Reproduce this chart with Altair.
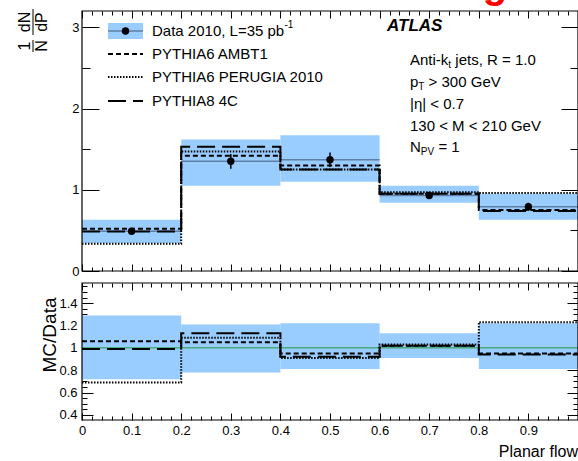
import altair as alt
import pandas as pd

# ---------------- data ----------------
edges = [0.0, 0.2, 0.4, 0.6, 0.8, 1.0]
bin_lo = [0.0, 0.2, 0.4, 0.6, 0.8]
bin_hi = [0.2, 0.4, 0.6, 0.8, 1.0]
bin_mid = [0.1, 0.3, 0.5, 0.7, 0.9]

data_val = [0.49, 1.35, 1.37, 0.93, 0.79]
data_err = [0.03, 0.09, 0.09, 0.03, 0.05]
band_lo = [0.345, 1.05, 1.10, 0.84, 0.63]
band_hi = [0.63, 1.62, 1.67, 1.05, 0.95]

ambt1 = [0.52, 1.42, 1.30, 0.95, 0.75]
perugia = [0.335, 1.47, 1.25, 0.97, 0.96]
p8_4c = [0.485, 1.53, 1.25, 0.95, 0.74]

ratio_lo = [0.72, 0.78, 0.81, 0.91, 0.81]
ratio_hi = [1.29, 1.21, 1.22, 1.13, 1.22]
ratio_ambt1 = [1.06, 1.05, 0.95, 1.02, 0.95]
ratio_perugia = [0.69, 1.09, 0.91, 1.03, 1.23]
ratio_4c = [0.99, 1.13, 0.92, 1.02, 0.94]

series_names = ["PYTHIA6 AMBT1", "PYTHIA6 PERUGIA 2010", "PYTHIA8 4C"]

x_major = [0.0, 0.1, 0.2, 0.3, 0.4, 0.5, 0.6, 0.7, 0.8, 0.9, 1.0]
x_minor = [round(0.02 * i, 2) for i in range(51)]
top_y_major = [0, 1, 2, 3]
top_y_minor = [0.5, 1.5, 2.5]
bot_y_major = [0.4, 0.6, 0.8, 1.0, 1.2, 1.4]
bot_y_minor = [round(0.4 + 0.05 * i, 2) for i in range(24)]

X_DOMAIN = [0.0, 1.0]
TOP_DOMAIN = [0.0, 3.2]
BOT_DOMAIN = [0.355, 1.58]

# ---------------- styling ----------------
FONT = "Liberation Sans"
BAND = "#99ccff"
DATA_LINE = "#5f80a6"
GREEN = "#1e9a3a"
DASHES = [[5, 3], [1.5, 1.5], [18, 7]]
W, H = 496, 409

XS = alt.Scale(domain=X_DOMAIN, nice=False, zero=False)
YT = alt.Scale(domain=TOP_DOMAIN, range=[260, 0], nice=False, zero=False)
YB = alt.Scale(domain=BOT_DOMAIN, range=[409, 272], nice=False, zero=False)


def axis(orient, values, size, offset, labels=False, pad=3, expr="format(datum.value, '~g')"):
    kw = dict(orient=orient, values=values, tickSize=size, offset=offset, labels=labels,
              domain=False, grid=False, ticks=True, title=None, tickColor="black", tickWidth=1)
    if labels:
        kw.update(labelFont=FONT, labelFontSize=13, labelColor="black", labelPadding=pad,
                  labelFlush=False, labelOverlap=False, labelExpr=expr)
    return alt.Axis(**kw)


bins = pd.DataFrame({
    "lo": bin_lo, "hi": bin_hi, "mid": bin_mid,
    "val": data_val,
    "err_lo": [v - e for v, e in zip(data_val, data_err)],
    "err_hi": [v + e for v, e in zip(data_val, data_err)],
    "band_lo": band_lo, "band_hi": band_hi,
    "r_lo": ratio_lo, "r_hi": ratio_hi,
})


def step_frame(series_vals):
    rows = []
    for name, vals in zip(series_names, series_vals):
        ys = vals + [vals[-1]]
        for x, y in zip(edges, ys):
            rows.append({"x": x, "y": y, "series": name})
    return pd.DataFrame(rows)


mc_top = step_frame([ambt1, perugia, p8_4c])
mc_bot = step_frame([ratio_ambt1, ratio_perugia, ratio_4c])

top_frame = pd.DataFrame({"x0": [X_DOMAIN[0]], "x1": [X_DOMAIN[1]], "y0": [TOP_DOMAIN[0]], "y1": [TOP_DOMAIN[1]]})
bot_frame = pd.DataFrame({"x0": [X_DOMAIN[0]], "x1": [X_DOMAIN[1]], "y0": [BOT_DOMAIN[0]], "y1": [BOT_DOMAIN[1]]})
unity = pd.DataFrame({"x0": [X_DOMAIN[0]], "x1": [X_DOMAIN[1]], "y": [1.0]})

dash_enc = alt.StrokeDash("series:N", scale=alt.Scale(domain=series_names, range=DASHES), legend=None)

# ---------------- top panel ----------------
band_top = alt.Chart(bins).mark_rect(color=BAND).encode(
    x=alt.X("lo:Q", scale=XS, axis=axis("bottom", x_major, 7, -156)),
    x2="hi:Q",
    y=alt.Y("band_lo:Q", scale=YT, axis=axis("left", top_y_major, 17, -17, labels=True, pad=3)),
    y2="band_hi:Q",
)
data_line = alt.Chart(bins).mark_rule(color=DATA_LINE, strokeWidth=1.5).encode(
    x=alt.X("lo:Q", scale=XS, axis=axis("bottom", x_minor, 4, -153)),
    x2="hi:Q",
    y=alt.Y("val:Q", scale=YT, axis=axis("left", top_y_minor, 8, -8)),
)
mc_top_layer = alt.Chart(mc_top).mark_line(interpolate="step-after", color="black", strokeWidth=2).encode(
    x=alt.X("x:Q", scale=XS, axis=axis("top", x_major, 7, -7)),
    y=alt.Y("y:Q", scale=YT, axis=axis("right", top_y_major, 17, -17)),
    strokeDash=dash_enc,
)
err_top = alt.Chart(bins).mark_rule(color="black", strokeWidth=1.5).encode(
    x=alt.X("mid:Q", scale=XS, axis=axis("top", x_minor, 4, -4)),
    y=alt.Y("err_lo:Q", scale=YT, axis=axis("right", top_y_minor, 8, -8)),
    y2="err_hi:Q",
)
pts_top = alt.Chart(bins).mark_circle(size=55, color="black", opacity=1).encode(
    x=alt.X("mid:Q", scale=XS, axis=None),
    y=alt.Y("val:Q", scale=YT, axis=None),
)
frame_top = alt.Chart(top_frame).mark_rect(fill="transparent", stroke="black", strokeWidth=1.2).encode(
    x=alt.X("x0:Q", scale=XS, axis=None), x2="x1:Q",
    y=alt.Y("y0:Q", scale=YT, axis=None), y2="y1:Q",
)

# ---------------- ratio panel ----------------
band_bot = alt.Chart(bins).mark_rect(color=BAND).encode(
    x=alt.X("lo:Q", scale=XS, axis=axis("bottom", x_major, 7, -7, labels=True, pad=4,
                                         expr="datum.value > 0.95 ? '' : format(datum.value, '~g')")),
    x2="hi:Q",
    y=alt.Y("r_lo:Q", scale=YB, axis=axis("left", bot_y_major, 11, -11, labels=True, pad=5)),
    y2="r_hi:Q",
)
unity_line = alt.Chart(unity).mark_rule(color=GREEN, strokeWidth=1).encode(
    x=alt.X("x0:Q", scale=XS, axis=axis("bottom", x_minor, 4, -4)),
    x2="x1:Q",
    y=alt.Y("y:Q", scale=YB, axis=axis("left", bot_y_minor, 5, -5)),
)
mc_bot_layer = alt.Chart(mc_bot).mark_line(interpolate="step-after", color="black", strokeWidth=2).encode(
    x=alt.X("x:Q", scale=XS, axis=axis("top", x_major, 7, -279)),
    y=alt.Y("y:Q", scale=YB, axis=axis("right", bot_y_major, 11, -11)),
    strokeDash=dash_enc,
)
frame_bot = alt.Chart(bot_frame).mark_rect(fill="transparent", stroke="black", strokeWidth=1.2).encode(
    x=alt.X("x0:Q", scale=XS, axis=axis("top", x_minor, 4, -276)), x2="x1:Q",
    y=alt.Y("y0:Q", scale=YB, axis=axis("right", bot_y_minor, 5, -5)), y2="y1:Q",
)

# ---------------- annotations ----------------
ONE = alt.Data(values=[{}])


def txt(s, x, y, size=15, align="left", baseline="middle", angle=0, weight="normal", style="normal", color="black"):
    return alt.Chart(ONE).mark_text(text=s, font=FONT, fontSize=size, align=align, baseline=baseline,
                                    angle=angle, fontWeight=weight, fontStyle=style, color=color).encode(
        x=alt.value(x), y=alt.value(y))


def seg(x1, x2, y, dash=None, color="black", width=2):
    kw = dict(color=color, strokeWidth=width)
    if dash is not None:
        kw["strokeDash"] = dash
    return alt.Chart(ONE).mark_rule(**kw).encode(x=alt.value(x1), x2=alt.value(x2), y=alt.value(y))


def vseg(x, y1, y2, width=1):
    return alt.Chart(ONE).mark_rule(color="black", strokeWidth=width).encode(
        x=alt.value(x), y=alt.value(y1), y2=alt.value(y2))


legend_rows = [20, 43, 66, 90]
LX1, LX2, LTX = 26, 61, 70
annots = [
    alt.Chart(ONE).mark_rect(color=BAND).encode(x=alt.value(LX1), x2=alt.value(LX2),
                                                y=alt.value(12), y2=alt.value(28)),
    seg(LX1, LX2, legend_rows[0], color=DATA_LINE, width=1.5),
    alt.Chart(ONE).mark_circle(size=55, color="black", opacity=1).encode(
        x=alt.value((LX1 + LX2) / 2), y=alt.value(legend_rows[0])),
    txt("Data 2010, L=35 pb", LTX, legend_rows[0]),
    txt("-1", LTX + 132.5, legend_rows[0] - 6, size=10),
]
for name, dash, yy in zip(series_names, DASHES, legend_rows[1:]):
    annots.append(seg(LX1, LX2, yy, dash=dash))
    annots.append(txt(name, LTX, yy))

annots += [
    txt("ATLAS", 305, 15, size=17, weight="bold", style="italic"),
    txt("Anti-k", 328, 49), txt("t", 366.3, 54, size=10), txt("jets, R = 1.0", 373.3, 49),
    txt("p", 328, 71), txt("T", 336.3, 76, size=10), txt("> 300 GeV", 346.6, 71),
    txt("|η| < 0.7", 328, 93),
    txt("130 < M < 210 GeV", 328, 115),
    txt("N", 328, 136), txt("PV", 338.8, 141, size=10), txt("= 1", 356.4, 136),
    # y-axis title of the top panel: (1/N) dN/dP
    txt("dN", -57, 11, size=16, align="center", angle=270),
    txt("dP", -40, 11, size=16, align="center", angle=270),
    txt("1", -57, 35, size=16, align="center", angle=270),
    txt("N", -40, 35, size=16, align="center", angle=270),
    vseg(-49, -2, 24),
    vseg(-49, 29, 41),
    txt("MC/Data", -32, 324, size=19, align="center", angle=270),
    txt("Planar flow", W, 441, size=16, align="right"),
    txt("g", 413, -13, size=40, weight="bold", color="#ff0000", align="center", baseline="alphabetic"),
]

chart = alt.layer(
    band_top, data_line, mc_top_layer, err_top, pts_top, frame_top,
    band_bot, unity_line, mc_bot_layer, frame_bot,
    *annots,
).resolve_scale(
    x="independent", y="independent"
).properties(
    width=W, height=H,
    autosize=alt.AutoSizeParams(type="none"),
    padding={"left": 82, "top": 11, "right": 0, "bottom": 41},
    background="white",
).configure_view(strokeWidth=0)

chart.save("out.html", embed_options={"renderer": "svg", "actions": False})
